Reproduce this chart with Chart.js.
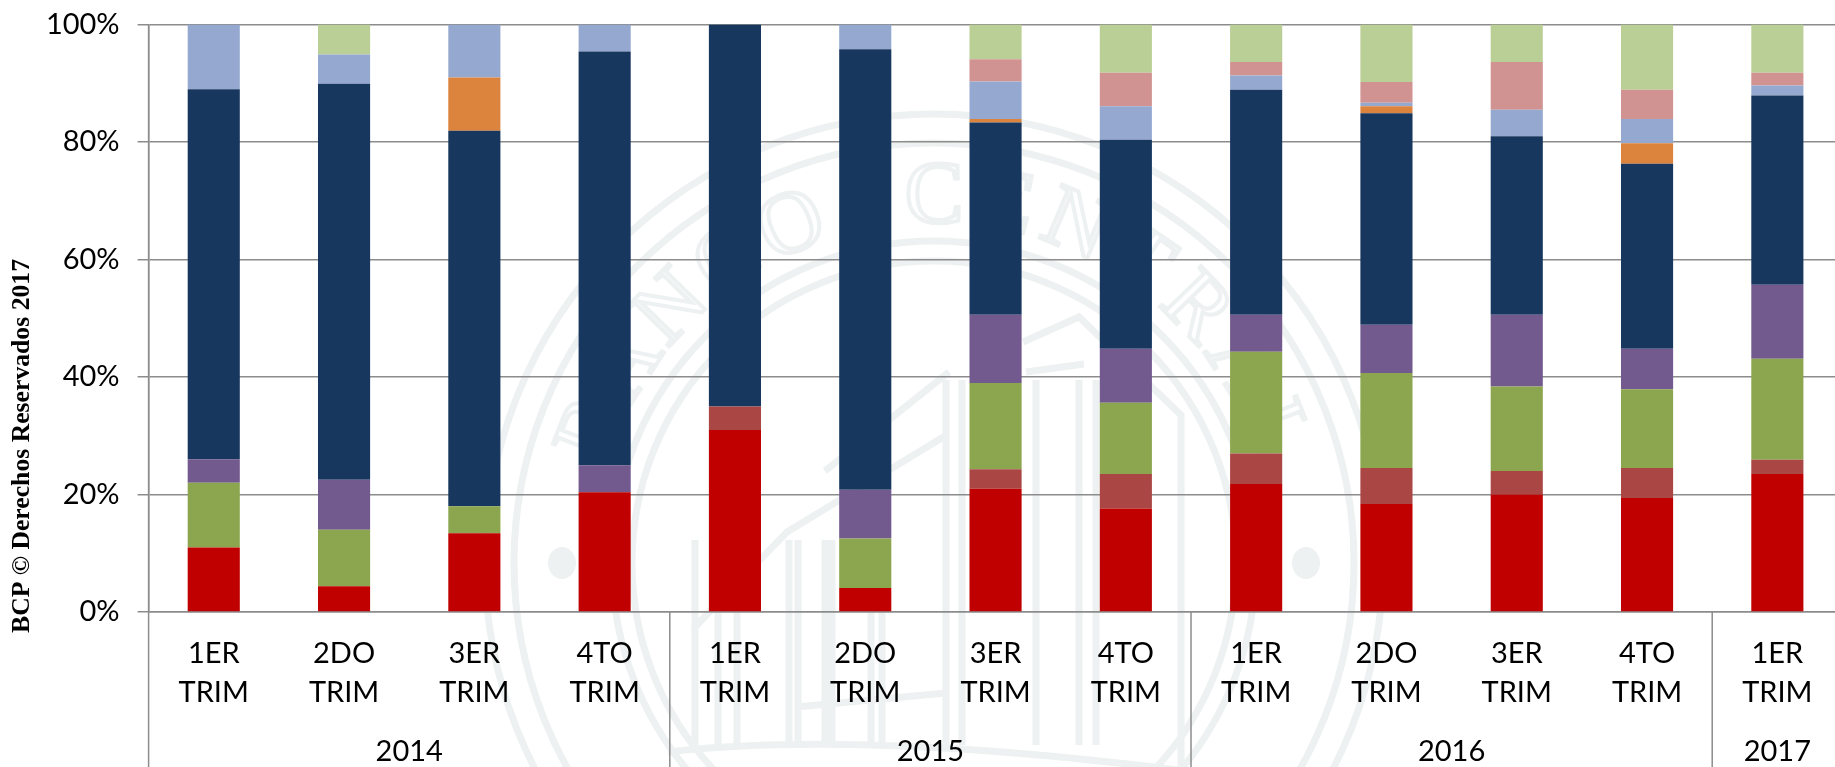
<!DOCTYPE html>
<html>
<head>
<meta charset="utf-8">
<title>BCP</title>
<style>
  html, body { margin: 0; padding: 0; background: #fff; overflow: hidden; }
  #wrap { width: 1835px; height: 767px; overflow: hidden; }
</style>
<script src="https://cdn.jsdelivr.net/npm/chart.js@4"></script>
</head>
<body>
<div id="wrap"><canvas id="chart" width="1846" height="767"></canvas></div>
<script>
const quarters = [
  ['1ER', 'TRIM'], ['2DO', 'TRIM'], ['3ER', 'TRIM'], ['4TO', 'TRIM'],
  ['1ER', 'TRIM'], ['2DO', 'TRIM'], ['3ER', 'TRIM'], ['4TO', 'TRIM'],
  ['1ER', 'TRIM'], ['2DO', 'TRIM'], ['3ER', 'TRIM'], ['4TO', 'TRIM'],
  ['1ER', 'TRIM']
];
const years = ['2014', '2015', '2016', '2017'];
const yearSpans = [4, 4, 4, 1];

const red = [11, 4.4, 13.4, 20.4, 31, 4.1, 21, 17.6, 21.8, 18.4, 20, 19.4, 23.5];
const darkRed = [0, 0, 0, 0, 4, 0, 3.3, 5.9, 5.2, 6.1, 4, 5.1, 2.4];
const green = [11, 9.6, 4.6, 0, 0, 8.4, 14.7, 12.1, 17.3, 16.2, 14.4, 13.4, 17.2];
const purple = [4, 8.5, 0, 4.6, 0, 8.3, 11.6, 9.2, 6.3, 8.2, 12.2, 6.9, 12.6];
const navy = [63, 67.4, 63.9, 70.4, 65, 75, 32.7, 35.6, 38.3, 36, 30.4, 31.5, 32.2];
const orange = [0, 0, 9.1, 0, 0, 0, 0.6, 0, 0, 1.2, 0, 3.5, 0];
const blue = [11, 5, 9, 4.6, 0, 4.2, 6.4, 5.7, 2.4, 0.6, 4.5, 4.1, 1.7];
const pink = [0, 0, 0, 0, 0, 0, 3.8, 5.7, 2.3, 3.5, 8.1, 5, 2.2];
const lightGreen = [0, 5.1, 0, 0, 0, 0, 5.9, 8.2, 6.4, 9.8, 6.4, 11.1, 8.2];

const FONT = 'Lato';
const AXIS_GRAY = '#8c8c8c';
const SEAL = '#eef1f1';

// faint bank seal behind the plot
function drawSeal(ctx) {
  const cx = 934, cy = 563;
  ctx.save();
  ctx.strokeStyle = SEAL;
  ctx.fillStyle = SEAL;
  ctx.lineWidth = 7;
  [449, 420, 322, 302].forEach(r => {
    ctx.beginPath();
    ctx.arc(cx, cy, r, 0, Math.PI * 2);
    ctx.stroke();
  });
  [-372, 372].forEach(dx => {
    ctx.beginPath();
    ctx.ellipse(cx + dx, cy, 14, 16, 0, 0, Math.PI * 2);
    ctx.fill();
  });
  // lettering round the ring
  const letters = 'BANCO CENTRAL';
  ctx.font = '88px "Liberation Serif"';
  ctx.textAlign = 'center';
  ctx.textBaseline = 'middle';
  ctx.lineWidth = 4;
  for (let i = 0; i < letters.length; i++) {
    const a = -Math.PI / 2 + (i - 6) * 0.2;
    ctx.save();
    ctx.translate(cx + Math.cos(a) * 364, cy + Math.sin(a) * 364);
    ctx.rotate(a + Math.PI / 2);
    ctx.strokeText(letters[i], 0, 0);
    ctx.restore();
  }
  // building front
  ctx.lineWidth = 7;
  ctx.beginPath();
  // roof lines
  ctx.moveTo(693, 629); ctx.lineTo(787, 532); ctx.lineTo(945, 436);
  ctx.moveTo(825, 471); ctx.lineTo(949, 372);
  ctx.moveTo(1023, 342); ctx.lineTo(1079, 317); ctx.lineTo(1181, 415); ctx.lineTo(1181, 767);
  ctx.moveTo(1026, 372); ctx.lineTo(1084, 364);
  // columns
  [695, 718, 737, 789, 798, 825, 832, 871, 882, 946, 962, 1036, 1079, 1096].forEach(x => {
    ctx.moveTo(x, x > 900 ? 380 : 540);
    ctx.lineTo(x, 745);
  });
  ctx.moveTo(796, 707); ctx.lineTo(946, 693);
  // base curve
  ctx.moveTo(668, 752); ctx.quadraticCurveTo(860, 730, 1186, 771);
  ctx.stroke();
  ctx.restore();
}

const sealPlugin = {
  id: 'seal',
  beforeDraw(chart) { drawSeal(chart.ctx); }
};

// year row, group dividers and the copyright text
const yearAxisPlugin = {
  id: 'yearAxis',
  afterDraw(chart) {
    const ctx = chart.ctx, x = chart.scales.x, area = chart.chartArea;
    const step = x.getPixelForValue(1) - x.getPixelForValue(0);
    ctx.save();
    ctx.strokeStyle = AXIS_GRAY;
    ctx.lineWidth = 1.5;
    ctx.beginPath();
    ctx.moveTo(area.left, area.top);
    ctx.lineTo(area.left, chart.height);
    ctx.stroke();
    ctx.fillStyle = '#000';
    ctx.font = '29px ' + FONT;
    ctx.textAlign = 'center';
    ctx.textBaseline = 'middle';
    let start = 0;
    years.forEach((year, i) => {
      const left = x.getPixelForValue(start) - step / 2;
      const right = left + yearSpans[i] * step;
      ctx.fillText(year, (left + right) / 2, 752);
      ctx.beginPath();
      ctx.moveTo(right, area.bottom);
      ctx.lineTo(right, chart.height);
      if (i < years.length - 1) ctx.stroke();
      start += yearSpans[i];
    });
    ctx.translate(22, 446);
    ctx.rotate(-Math.PI / 2);
    ctx.font = 'bold 25.7px "Liberation Serif"';
    ctx.fillText('BCP © Derechos Reservados 2017', 0, 0);
    ctx.restore();
  }
};

function series(label, data, color) {
  return { label, data, backgroundColor: color, categoryPercentage: 0.4, barPercentage: 1 };
}

new Chart(document.getElementById('chart'), {
  type: 'bar',
  data: {
    labels: quarters,
    datasets: [
      series('Rojo', red, '#c00000'),
      series('Rojo oscuro', darkRed, '#aa4644'),
      series('Verde', green, '#8ba64e'),
      series('Morado', purple, '#72598e'),
      series('Azul oscuro', navy, '#17375e'),
      series('Naranja', orange, '#dc833e'),
      series('Azul', blue, '#95a9d0'),
      series('Rosa', pink, '#d19392'),
      series('Verde claro', lightGreen, '#bacf95')
    ]
  },
  options: {
    responsive: false,
    animation: false,
    layout: { padding: { top: 24.5, left: 0, right: 3.5, bottom: 0 } },
    plugins: { legend: { display: false }, tooltip: { enabled: false } },
    scales: {
      x: {
        stacked: true,
        grid: { display: false },
        border: { color: AXIS_GRAY, width: 1.5 },
        afterFit(scale) { scale.height = 155; },
        ticks: {
          color: '#000',
          font: { family: FONT, size: 29, lineHeight: 1.35 },
          padding: 14,
          maxRotation: 0,
          autoSkip: false
        }
      },
      y: {
        stacked: true,
        min: 0,
        max: 100,
        afterFit(scale) {
          scale.width = 148.6;
          scale.paddingTop = 0;
          scale.paddingBottom = 0;
        },
        grid: { color: AXIS_GRAY, lineWidth: 1.5, tickLength: 11 },
        border: { color: AXIS_GRAY, width: 1.5 },
        ticks: {
          stepSize: 20,
          color: '#000',
          padding: 18,
          font: { family: FONT, size: 29 },
          callback: value => value + '%'
        }
      }
    }
  },
  plugins: [sealPlugin, yearAxisPlugin]
});
</script>
</body>
</html>
